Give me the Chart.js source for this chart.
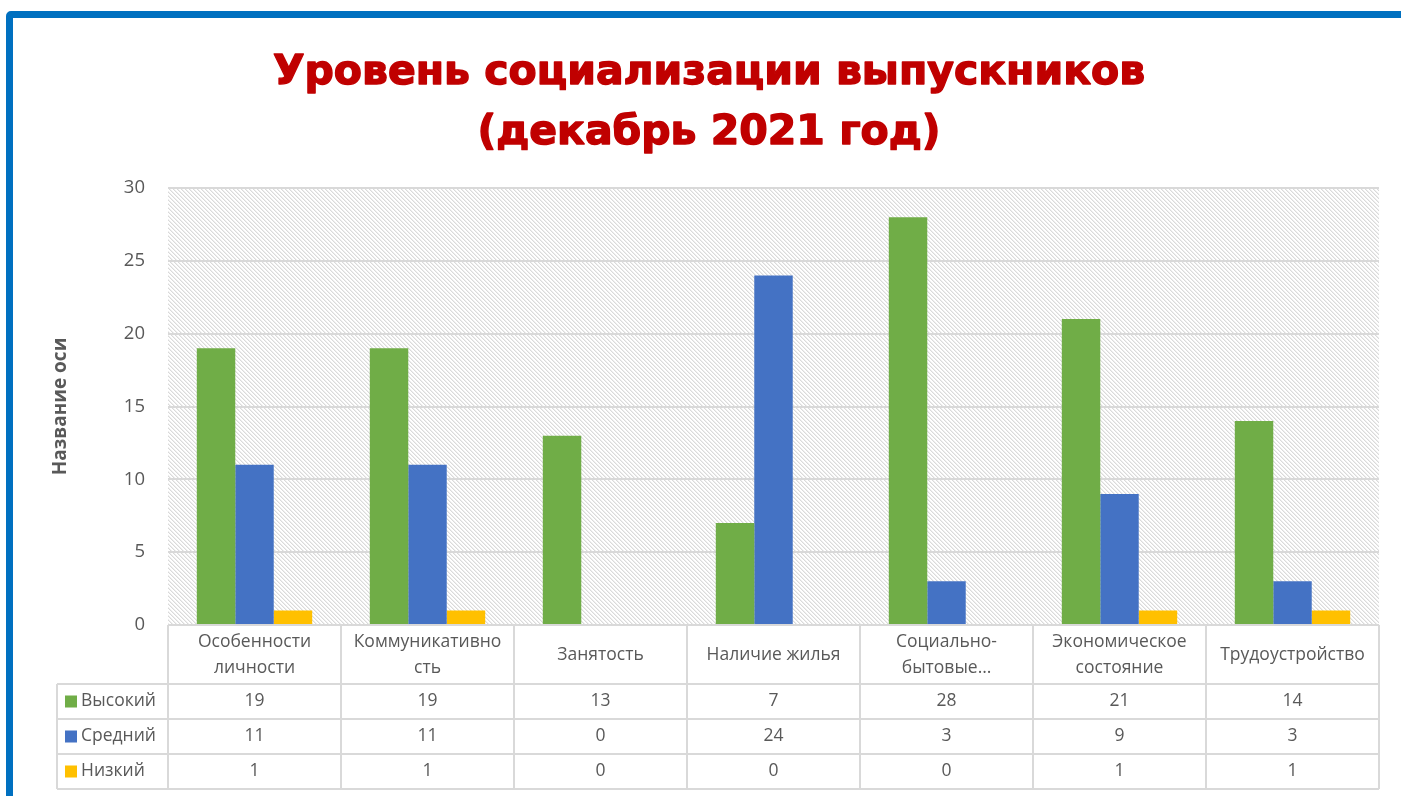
<!DOCTYPE html>
<html>
<head>
<meta charset="utf-8">
<script src="https://cdn.jsdelivr.net/npm/chart.js@4.4.1/dist/chart.umd.min.js"></script>
<style>
  html, body { margin: 0; padding: 0; background: #fff; overflow: hidden; }
  #frame {
    position: absolute; left: 6px; top: 11px; width: 1500px; height: 900px;
    border: 7px solid #0070C0; border-radius: 5px; pointer-events: none;
  }
  canvas { position: absolute; left: 0; top: 0; }
</style>
</head>
<body>
<canvas id="chart" width="1401" height="796"></canvas>
<div id="frame"></div>
<script>
// данные диаграммы
const categories = [
  ['Особенности', 'личности'],
  ['Коммуникативно', 'сть'],
  ['Занятость'],
  ['Наличие жилья'],
  ['Социально-', 'бытовые…'],
  ['Экономическое', 'состояние'],
  ['Трудоустройство']
];
const seriesNames = ['Высокий', 'Средний', 'Низкий'];
const highValues = [19, 19, 13, 7, 28, 21, 14];
const midValues = [11, 11, 0, 24, 3, 9, 3];
const lowValues = [1, 1, 0, 0, 0, 1, 1];
const yTicks = [0, 5, 10, 15, 20, 25, 30];
const titleLines = ['Уровень социализации выпускников', '(декабрь 2021 год)'];

const colors = ['#70AD47', '#4472C4', '#FFC000'];
const textGray = '#595959';
const lineGray = '#D9D9D9';
const tableFont = '17.5px "Open Sans"';

// штриховка фона области построения
function makeHatch() {
  const c = document.createElement('canvas');
  c.width = 4; c.height = 4;
  const g = c.getContext('2d');
  g.fillStyle = '#fff';
  g.fillRect(0, 0, 4, 4);
  g.fillStyle = '#DADADA';
  for (let i = 0; i < 4; i++) g.fillRect(i, i, 1, 1);
  g.fillStyle = '#EEEEEE';
  for (let i = 0; i < 4; i++) g.fillRect((i + 1) % 4, i, 1, 1);
  return g.createPattern(c, 'repeat');
}

const hatchPlugin = {
  id: 'hatch',
  beforeDraw(chart) {
    const { ctx, chartArea: a } = chart;
    ctx.save();
    ctx.fillStyle = '#fff';
    ctx.fillRect(0, 0, chart.width, chart.height);
    ctx.fillStyle = makeHatch();
    ctx.fillRect(a.left, a.top, a.right - a.left, a.bottom - a.top);
    ctx.restore();
  }
};

const titlePlugin = {
  id: 'bigTitle',
  afterDraw(chart) {
    const ctx = chart.ctx;
    ctx.save();
    ctx.fillStyle = '#C00000';
    ctx.strokeStyle = '#C00000';
    ctx.lineWidth = 1.4;
    ctx.lineJoin = 'round';
    ctx.font = 'bold 41px "DejaVu Sans"';
    ctx.textAlign = 'center';
    ctx.textBaseline = 'alphabetic';
    [[titleLines[0], 84], [titleLines[1], 144]].forEach(([t, y]) => {
      ctx.fillText(t, 709, y);
      ctx.strokeText(t, 709, y);
    });
    ctx.restore();
  }
};

// таблица данных под осью X
const tablePlugin = {
  id: 'dataTable',
  afterDraw(chart) {
    const { ctx, chartArea: a } = chart;
    const x = chart.scales.x;
    const n = chart.data.labels.length;
    const w = (a.right - a.left) / n;
    const top = a.bottom;
    const rows = [684, 719, 754, 789];
    const legendLeft = 57;

    ctx.save();
    ctx.strokeStyle = lineGray;
    ctx.lineWidth = 2;
    ctx.beginPath();
    ctx.moveTo(a.left, top); ctx.lineTo(a.right, top);
    rows.forEach(y => { ctx.moveTo(legendLeft, y); ctx.lineTo(a.right, y); });
    for (let i = 0; i <= n; i++) {
      const bx = a.left + i * w;
      ctx.moveTo(bx, top); ctx.lineTo(bx, rows[3]);
    }
    ctx.moveTo(legendLeft, rows[0]); ctx.lineTo(legendLeft, rows[3]);
    ctx.stroke();

    ctx.fillStyle = textGray;
    ctx.font = tableFont;
    ctx.textAlign = 'center';
    ctx.textBaseline = 'middle';
    chart.data.labels.forEach((lab, i) => {
      const cx = x.getPixelForValue(i);
      if (lab.length === 1) {
        ctx.fillText(lab[0], cx, 655);
      } else {
        ctx.fillText(lab[0], cx, 642);
        ctx.fillText(lab[1], cx, 668);
      }
    });

    chart.data.datasets.forEach((ds, r) => {
      const cy = (rows[r] + rows[r + 1]) / 2;
      ctx.fillStyle = ds.backgroundColor;
      ctx.fillRect(65, cy - 6, 12, 12);
      ctx.fillStyle = textGray;
      ctx.textAlign = 'left';
      ctx.fillText(ds.label, 81, cy);
      ctx.textAlign = 'center';
      ds.data.forEach((v, i) => ctx.fillText(String(v), x.getPixelForValue(i), cy));
    });
    ctx.restore();
  }
};

new Chart(document.getElementById('chart'), {
  type: 'bar',
  data: {
    labels: categories,
    datasets: [
      { label: seriesNames[0], data: highValues, backgroundColor: colors[0] },
      { label: seriesNames[1], data: midValues, backgroundColor: colors[1] },
      { label: seriesNames[2], data: lowValues, backgroundColor: colors[2] }
    ]
  },
  options: {
    responsive: false,
    animation: false,
    layout: { padding: { left: 0, right: 22, top: 188, bottom: 171 } },
    datasets: { bar: { categoryPercentage: 0.667, barPercentage: 1 } },
    plugins: {
      legend: { display: false },
      tooltip: { enabled: false },
      title: { display: false }
    },
    scales: {
      x: {
        grid: { display: false, drawTicks: false },
        border: { display: false },
        ticks: { display: false }
      },
      y: {
        min: 0,
        max: 30,
        afterBuildTicks: s => { s.ticks = yTicks.map(v => ({ value: v })); },
        afterFit: s => { s.width = 168; },
        grid: { color: lineGray, lineWidth: 2, drawTicks: false },
        border: { display: false },
        ticks: { color: textGray, font: { family: 'Open Sans', size: 18.5 }, padding: 23 },
        title: {
          display: true,
          text: 'Название оси',
          color: textGray,
          font: { family: 'Open Sans', size: 19, weight: 'bold' },
          padding: { top: 49, bottom: 0 }
        }
      }
    }
  },
  plugins: [hatchPlugin, titlePlugin, tablePlugin]
});
</script>
</body>
</html>
